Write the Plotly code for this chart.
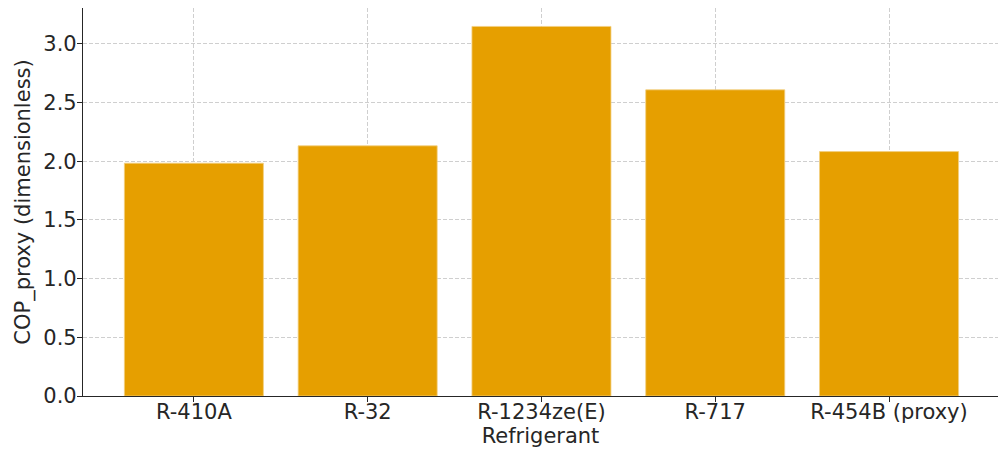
import plotly.graph_objects as go

refrigerants = ["R-410A", "R-32", "R-1234ze(E)", "R-717", "R-454B (proxy)"]
cop_proxy = [1.983, 2.131, 3.148, 2.608, 2.082]
y_ticks = [0.0, 0.5, 1.0, 1.5, 2.0, 2.5, 3.0]
y_tick_labels = ["0.0", "0.5", "1.0", "1.5", "2.0", "2.5", "3.0"]

fig = go.Figure()
fig.add_trace(go.Bar(
    x=list(range(len(refrigerants))),
    y=cop_proxy,
    width=0.8,
    marker=dict(color="#E69F00", line=dict(color="#F3CF80", width=0.8)),
))

font = dict(family="DejaVu Sans", size=21, color="#262626")
grid = dict(showgrid=True, gridcolor="#cfcfcf", griddash="4px,2px", gridwidth=1)

fig.update_layout(
    width=998, height=452,
    margin=dict(l=83, r=0, t=8, b=56, autoexpand=False),
    plot_bgcolor="white", paper_bgcolor="white",
    font=font,
    showlegend=False,
    bargap=0.2,
    xaxis=dict(
        range=[-0.638, 4.627],
        tickmode="array",
        tickvals=list(range(len(refrigerants))),
        ticktext=refrigerants,
        ticks="outside", ticklen=5, tickcolor="#262626", tickwidth=1,
        ticklabelstandoff=-8,
        showline=True, linecolor="#262626", linewidth=1.2,
        zeroline=False,
        title=dict(text="Refrigerant", font=font, standoff=4),
        layer="above traces",
        automargin=False,
        **grid,
    ),
    yaxis=dict(
        range=[0, 3.305],
        tickmode="array",
        tickvals=y_ticks,
        ticktext=y_tick_labels,
        ticks="outside", ticklen=5, tickcolor="#262626", tickwidth=1,
        ticklabelstandoff=-4,
        showline=True, linecolor="#262626", linewidth=1.2,
        zeroline=False,
        title=dict(text="COP_proxy (dimensionless)", font=font, standoff=6),
        layer="above traces",
        automargin=False,
        **grid,
    ),
)

fig.write_html(
    "out.html",
    config={"displayModeBar": False},
    post_script="document.body.style.margin='0';document.body.style.overflow='hidden';",
)
